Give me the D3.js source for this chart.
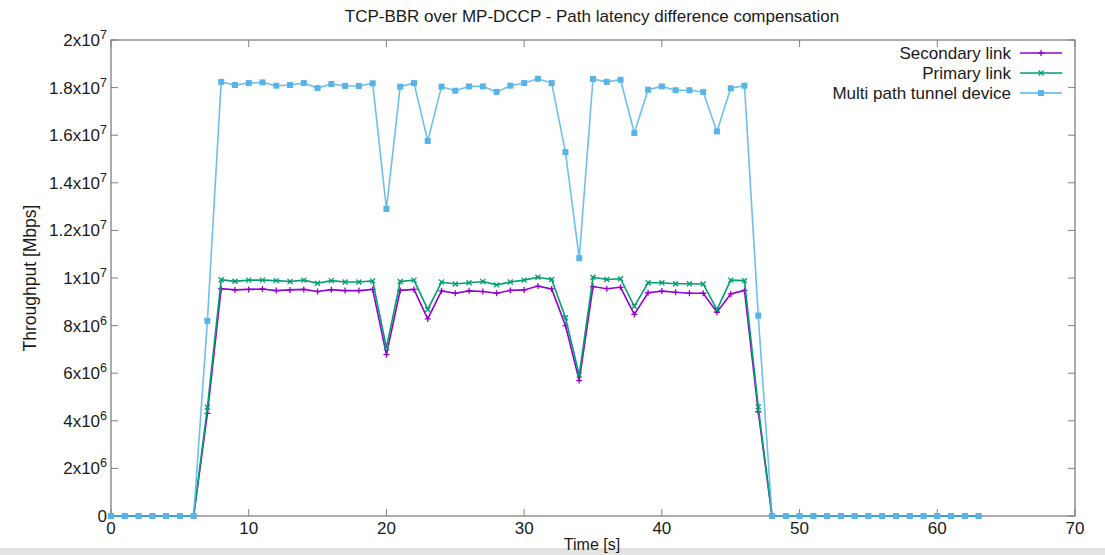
<!DOCTYPE html>
<html>
<head>
<meta charset="utf-8">
<script src="https://cdn.jsdelivr.net/npm/d3@7"></script>
<style>
  body { margin: 0; background: #fff; }
  text { font-family: "Liberation Sans", Arial, sans-serif; fill: #1a1a1a; }
</style>
</head>
<body>
<svg id="chart" width="1105" height="555"></svg>
<script>
// time in seconds, 0..63
const times = d3.range(0, 64);

// throughput values (bit/s)
const secondary = [0, 0, 0, 0, 0, 0, 0, 4.31e6,
  9.55e6, 9.50e6, 9.52e6, 9.54e6, 9.47e6, 9.50e6, 9.52e6, 9.43e6, 9.51e6, 9.47e6, 9.47e6, 9.52e6,
  6.78e6, 9.48e6, 9.52e6, 8.28e6, 9.46e6, 9.36e6, 9.46e6, 9.43e6, 9.36e6, 9.48e6, 9.50e6, 9.66e6,
  9.54e6, 8.00e6, 5.69e6, 9.64e6, 9.55e6, 9.61e6, 8.47e6, 9.38e6, 9.45e6, 9.40e6, 9.36e6, 9.36e6,
  8.56e6, 9.33e6, 9.48e6, 4.38e6,
  0, 0, 0, 0, 0, 0, 0, 0, 0, 0, 0, 0, 0, 0, 0, 0];
const primary = [0, 0, 0, 0, 0, 0, 0, 4.57e6,
  9.93e6, 9.86e6, 9.91e6, 9.91e6, 9.89e6, 9.85e6, 9.91e6, 9.78e6, 9.89e6, 9.83e6, 9.83e6, 9.88e6,
  7.07e6, 9.85e6, 9.91e6, 8.68e6, 9.83e6, 9.75e6, 9.80e6, 9.85e6, 9.71e6, 9.83e6, 9.91e6, 10.03e6,
  9.94e6, 8.33e6, 5.92e6, 10.03e6, 9.94e6, 9.97e6, 8.81e6, 9.80e6, 9.80e6, 9.76e6, 9.76e6, 9.75e6,
  8.67e6, 9.91e6, 9.89e6, 4.59e6,
  0, 0, 0, 0, 0, 0, 0, 0, 0, 0, 0, 0, 0, 0, 0, 0];
const tunnel = [0, 0, 0, 0, 0, 0, 0, 8.2e6,
  18.24e6, 18.11e6, 18.19e6, 18.22e6, 18.08e6, 18.11e6, 18.19e6, 17.98e6, 18.15e6, 18.07e6, 18.07e6, 18.18e6,
  12.9e6, 18.04e6, 18.19e6, 15.76e6, 18.04e6, 17.87e6, 18.05e6, 18.05e6, 17.82e6, 18.08e6, 18.19e6, 18.37e6,
  18.19e6, 15.29e6, 10.83e6, 18.36e6, 18.24e6, 18.33e6, 16.09e6, 17.91e6, 18.05e6, 17.89e6, 17.89e6, 17.82e6,
  16.16e6, 17.97e6, 18.08e6, 8.42e6,
  0, 0, 0, 0, 0, 0, 0, 0, 0, 0, 0, 0, 0, 0, 0, 0];

const xTicks = [0, 10, 20, 30, 40, 50, 60, 70];
const yTicks = [0, 2e6, 4e6, 6e6, 8e6, 1e7, 1.2e7, 1.4e7, 1.6e7, 1.8e7, 2e7];
const yTickMant = ['0', '2x10', '4x10', '6x10', '8x10', '1x10', '1.2x10', '1.4x10', '1.6x10', '1.8x10', '2x10'];
const yTickExp = ['', '6', '6', '6', '6', '7', '7', '7', '7', '7', '7'];

const seriesNames = ['Secondary link', 'Primary link', 'Multi path tunnel device'];
const seriesColors = ['#9400d3', '#009e73', '#56b4e9'];
const seriesData = [secondary, primary, tunnel];
const seriesMarks = ['plus', 'cross', 'square'];

const svg = d3.select('#chart');
const plotL = 111, plotR = 1075, plotT = 40, plotB = 516;

const x = d3.scaleLinear().domain([0, 70]).range([plotL, plotR]);
const y = d3.scaleLinear().domain([0, 2e7]).range([plotB, plotT]);

// window edge band at the bottom (drawn first so the axis title stays readable)
svg.append('rect').attr('x', 0).attr('y', 549).attr('width', 1105).attr('height', 6).attr('fill', '#e4e4e4');
svg.append('line').attr('x1', 0).attr('x2', 1105).attr('y1', 549).attr('y2', 549).attr('stroke', '#cfcfcf');

// title
svg.append('text')
  .attr('x', 592).attr('y', 22)
  .attr('text-anchor', 'middle')
  .style('font-size', '17px')
  .text('TCP-BBR over MP-DCCP - Path latency difference compensation');

// frame
svg.append('rect')
  .attr('x', plotL).attr('y', plotT)
  .attr('width', plotR - plotL).attr('height', plotB - plotT)
  .attr('fill', 'none').attr('stroke', '#808080').attr('stroke-width', 1.3);

// ticks on all four sides, pointing in
const tickLen = 7;
const tg = svg.append('g').attr('stroke', '#808080').attr('stroke-width', 1);
xTicks.forEach(t => {
  tg.append('line').attr('x1', x(t)).attr('x2', x(t)).attr('y1', plotB).attr('y2', plotB - tickLen);
  tg.append('line').attr('x1', x(t)).attr('x2', x(t)).attr('y1', plotT).attr('y2', plotT + tickLen);
});
yTicks.forEach(t => {
  tg.append('line').attr('x1', plotL).attr('x2', plotL + tickLen).attr('y1', y(t)).attr('y2', y(t));
  tg.append('line').attr('x1', plotR).attr('x2', plotR - tickLen).attr('y1', y(t)).attr('y2', y(t));
});

// x tick labels
svg.append('g').selectAll('text').data(xTicks).join('text')
  .attr('x', d => x(d)).attr('y', plotB + 18)
  .attr('text-anchor', 'middle')
  .style('font-size', '17px')
  .text(d => d);

// y tick labels with exponent
const yl = svg.append('g').selectAll('text').data(yTicks).join('text')
  .attr('x', plotL - 4).attr('y', d => y(d) + 6)
  .attr('text-anchor', 'end')
  .style('font-size', '17px');
yl.each(function(d, i) {
  const t = d3.select(this);
  if (yTickExp[i] === '') {
    t.text(yTickMant[i]);
  } else {
    t.append('tspan').text(yTickMant[i]);
    t.append('tspan').attr('dy', -7).style('font-size', '12.5px').text(yTickExp[i]);
  }
});

// axis titles
svg.append('text')
  .attr('transform', `translate(36,${(plotT + plotB) / 2}) rotate(-90)`)
  .attr('text-anchor', 'middle')
  .style('font-size', '17.5px')
  .text('Throughput [Mbps]');
svg.append('text')
  .attr('x', 592).attr('y', 550)
  .attr('text-anchor', 'middle')
  .style('font-size', '16px')
  .text('Time [s]');

// marker drawing
function mark(g, kind, cx, cy, color) {
  if (kind === 'plus') {
    g.append('path').attr('d', `M${cx - 3},${cy}H${cx + 3}M${cx},${cy - 3}V${cy + 3}`)
      .attr('stroke', color).attr('stroke-width', 1.3).attr('fill', 'none');
  } else if (kind === 'cross') {
    g.append('path').attr('d', `M${cx - 2.5},${cy - 2.5}L${cx + 2.5},${cy + 2.5}M${cx - 2.5},${cy + 2.5}L${cx + 2.5},${cy - 2.5}`)
      .attr('stroke', color).attr('stroke-width', 1.3).attr('fill', 'none');
  } else {
    g.append('rect').attr('x', cx - 3).attr('y', cy - 3).attr('width', 6).attr('height', 6)
      .attr('fill', color);
  }
}

const line = d3.line().x((d, i) => x(times[i])).y(d => y(d));

seriesData.forEach((vals, s) => {
  const g = svg.append('g');
  g.append('path')
    .datum(vals)
    .attr('d', line)
    .attr('fill', 'none')
    .attr('stroke', seriesColors[s])
    .attr('stroke-width', 1.6)
    .attr('stroke-opacity', s === 2 ? 0.85 : 1);
  vals.forEach((v, i) => mark(g, seriesMarks[s], x(times[i]), y(v), seriesColors[s]));
});

// legend
const legY = [53, 73, 93];
seriesNames.forEach((name, s) => {
  svg.append('text')
    .attr('x', 1011).attr('y', legY[s] + 6)
    .attr('text-anchor', 'end')
    .style('font-size', '17px')
    .text(name);
  svg.append('line')
    .attr('x1', 1020).attr('x2', 1062).attr('y1', legY[s]).attr('y2', legY[s])
    .attr('stroke', seriesColors[s]).attr('stroke-width', 1.6);
  mark(svg, seriesMarks[s], 1041, legY[s], seriesColors[s]);
});
</script>
</body>
</html>
